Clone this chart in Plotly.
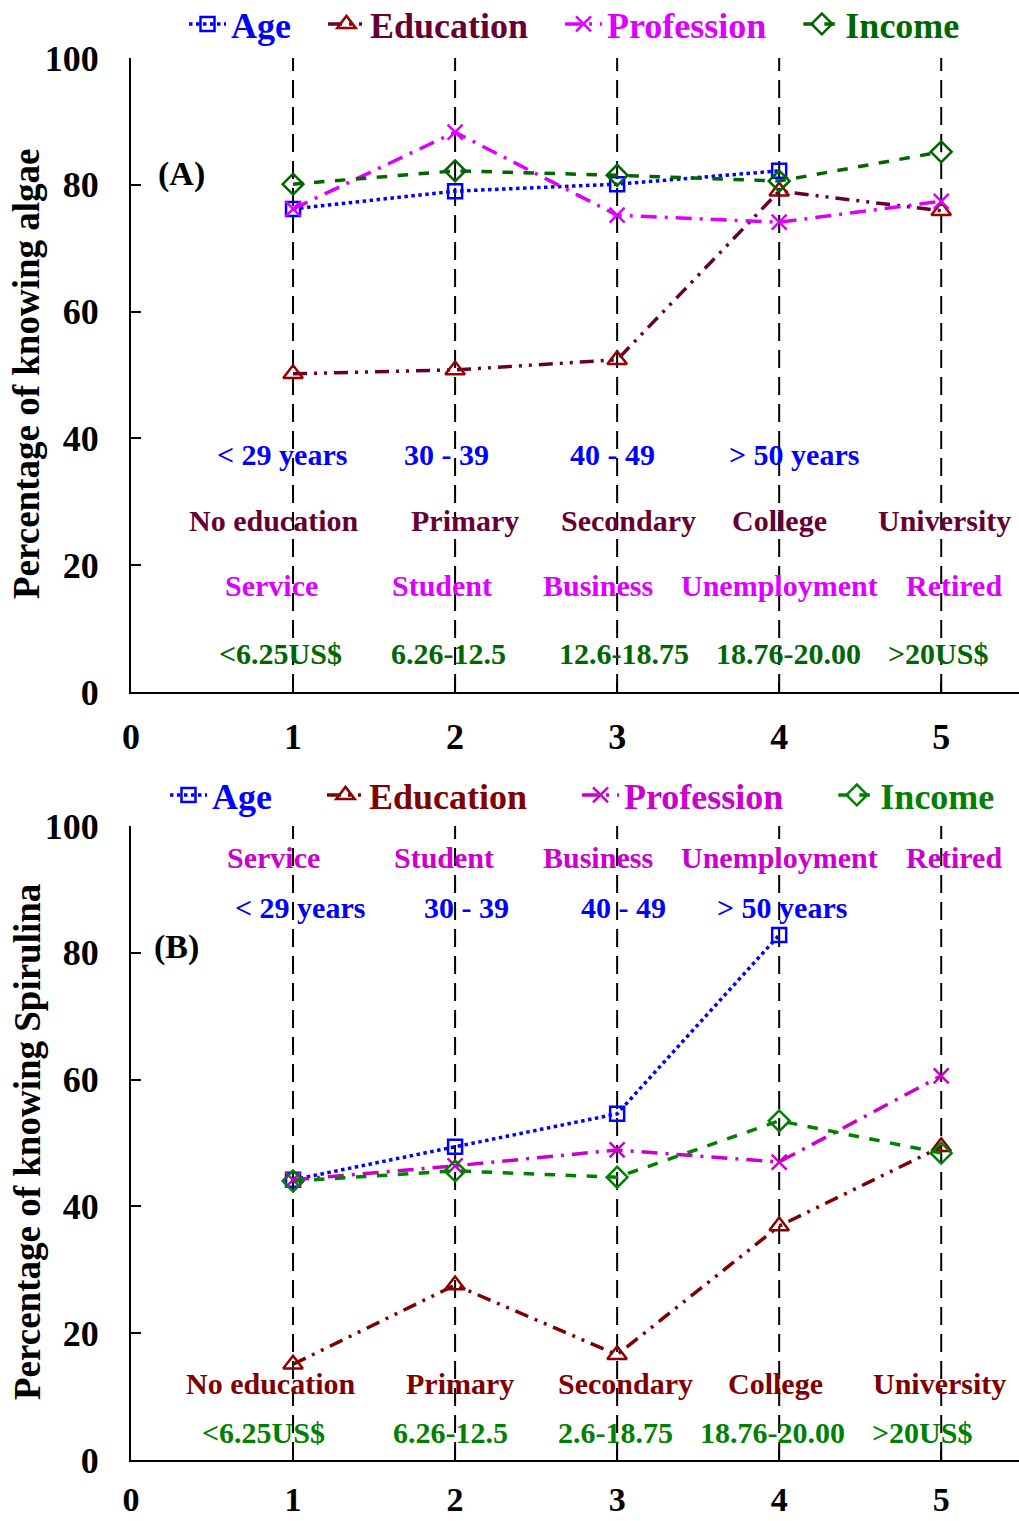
import plotly.graph_objects as go

# ---------------- data ----------------
x_vals = [1, 2, 3, 4, 5]

# Panel A: Percentage of knowing algae
a_age = [76.2, 79.0, 80.1, 82.2, None]
a_edu = [50.2, 50.8, 52.4, 79.0, 75.9]
a_prof = [76.2, 88.3, 75.2, 74.1, 77.4]
a_inc = [80.1, 82.2, 81.5, 80.6, 85.2]

# Panel B: Percentage of knowing Spirulina
b_age = [44.2, 49.4, 54.6, 82.8, None]
b_edu = [15.1, 27.6, 16.6, 36.9, 49.4]
b_prof = [44.2, 46.4, 48.9, 47.0, 60.6]
b_inc = [44.0, 45.6, 44.6, 53.5, 48.4]

series_names = ["Age", "Education", "Profession", "Income"]

# category labels (panel A)
a_age_labels = ["< 29 years", "30 - 39", "40 - 49", "> 50 years"]
a_age_lx = [0.93, 1.95, 2.97, 4.09]
a_edu_labels = ["No education", "Primary", "Secondary", "College", "University"]
a_edu_lx = [0.88, 2.06, 3.07, 4.0, 5.02]
a_prof_labels = ["Service", "Student", "Business", "Unemployment", "Retired"]
a_prof_lx = [0.87, 1.92, 2.88, 4.0, 5.08]
a_inc_labels = ["<6.25US$", "6.26-12.5", "12.6-18.75", "18.76-20.00", ">20US$"]
a_inc_lx = [0.92, 1.96, 3.04, 4.06, 4.98]
a_label_y = {"age": 37.4, "edu": 27.0, "prof": 16.8, "inc": 6.0}

# category labels (panel B)
b_prof_labels = ["Service", "Student", "Business", "Unemployment", "Retired"]
b_prof_lx = [0.88, 1.93, 2.88, 4.0, 5.08]
b_age_labels = ["< 29 years", "30 - 39", "40 - 49", "> 50 years"]
b_age_lx = [1.04, 2.07, 3.04, 4.02]
b_edu_labels = ["No education", "Primary", "Secondary", "College", "University"]
b_edu_lx = [0.86, 2.03, 3.05, 3.98, 4.99]
b_inc_labels = ["<6.25US$", "6.26-12.5", "2.6-18.75", "18.76-20.00", ">20US$"]
b_inc_lx = [0.82, 1.97, 2.99, 3.96, 4.88]
b_label_y = {"prof": 95.1, "age": 87.2, "edu": 12.1, "inc": 4.3}

y_ticks = [0, 20, 40, 60, 80, 100]
x_ticks = [0, 1, 2, 3, 4, 5]

# ---------------- styles ----------------
FONT = "Liberation Serif"
colA = {"age": "#0000FF", "edu_line": "#660033", "edu_mk": "#990000",
        "prof": "#DD00FF", "inc": "#006600", "edu_txt": "#660033"}
colB = {"age": "#0000FF", "edu_line": "#800000", "edu_mk": "#8B0000",
        "prof": "#CC00CC", "inc": "#008000", "edu_txt": "#800000"}
DASH_EDU = "14px,7px,3px,7px,3px,7px"
DASH_PROF = "16px,8px,3px,8px"

fig = go.Figure()


def add_panel(xa, ya, legend, col, age, edu, prof, inc, pad):
    specs = [
        ("Age", age, col["age"], col["age"], "dot", "square-open", col["age"], 14),
        ("Education", edu, col["edu_line"], col["edu_mk"], DASH_EDU, "triangle-up-open", col["edu_txt"], 17),
        ("Profession", prof, col["prof"], col["prof"], DASH_PROF, "x-thin-open", col["prof"], 15),
        ("Income", inc, col["inc"], col["inc"], "dash", "diamond-open", col["inc"], 16),
    ]
    for i, (name, ys, lc, mc, dash, sym, tc, ms) in enumerate(specs):
        trail = "&nbsp;" * pad if i < len(specs) - 1 else ""
        fig.add_trace(go.Scatter(
            x=x_vals, y=ys, mode="lines+markers",
            name=f"<span style='color:{tc}'>{name}</span>{trail}",
            line=dict(color=lc, width=3.5, dash=dash),
            marker=dict(symbol=sym, size=ms, color=mc,
                        line=dict(color=mc, width=2.5)),
            xaxis=xa, yaxis=ya, legend=legend, connectgaps=False,
        ))


add_panel("x", "y", "legend", colA, a_age, a_edu, a_prof, a_inc, 3)
add_panel("x2", "y2", "legend2", colB, b_age, b_edu, b_prof, b_inc, 5)

# vertical dashed guide lines
for xr, yr in (("x", "y"), ("x2", "y2")):
    for xv in x_vals:
        fig.add_shape(type="line", xref=xr, yref=yr, x0=xv, x1=xv, y0=0, y1=100,
                      line=dict(color="black", width=2, dash="18px,9px"), layer="below")

annos = []


def add_labels(labels, lxs, y, color, xr, yr):
    for t, lx in zip(labels, lxs):
        annos.append(dict(x=lx, y=y, xref=xr, yref=yr, text=t, showarrow=False,
                          font=dict(family=FONT, size=30, color=color, weight="bold"),
                          xanchor="center", yanchor="middle"))


add_labels(a_age_labels, a_age_lx, a_label_y["age"], colA["age"], "x", "y")
add_labels(a_edu_labels, a_edu_lx, a_label_y["edu"], colA["edu_txt"], "x", "y")
add_labels(a_prof_labels, a_prof_lx, a_label_y["prof"], colA["prof"], "x", "y")
add_labels(a_inc_labels, a_inc_lx, a_label_y["inc"], colA["inc"], "x", "y")

add_labels(b_prof_labels, b_prof_lx, b_label_y["prof"], colB["prof"], "x2", "y2")
add_labels(b_age_labels, b_age_lx, b_label_y["age"], colB["age"], "x2", "y2")
add_labels(b_edu_labels, b_edu_lx, b_label_y["edu"], colB["edu_txt"], "x2", "y2")
add_labels(b_inc_labels, b_inc_lx, b_label_y["inc"], colB["inc"], "x2", "y2")

# panel letters
annos.append(dict(x=0.31, y=81.7, xref="x", yref="y", text="(A)", showarrow=False,
                  xanchor="center", yanchor="middle",
                  font=dict(family=FONT, size=34, color="black", weight="bold")))
annos.append(dict(x=0.28, y=80.9, xref="x2", yref="y2", text="(B)", showarrow=False,
                  xanchor="center", yanchor="middle",
                  font=dict(family=FONT, size=34, color="black", weight="bold")))

# figure geometry (pixels)
L, R, T, B = 131, 0, 58, 61
W, H = 1019, 1521
pw, ph = W - L - R, H - T - B

# y-axis titles (rotated), positioned by pixel centre
for txt, px, py in (("Percentage of knowing algae", 27, 374),
                    ("Percentage of knowing Spirulina", 27, 1142)):
    annos.append(dict(x=(px - L) / pw, y=(H - B - py) / ph, xref="paper", yref="paper",
                      text=txt, showarrow=False, textangle=-90,
                      xanchor="center", yanchor="middle",
                      font=dict(family=FONT, size=37, color="black", weight="bold")))

axis_common = dict(
    showline=True, linecolor="black", linewidth=2, mirror=False,
    showgrid=False, zeroline=False, ticks="inside", ticklen=10, tickwidth=2,
    tickcolor="black", automargin=False,
)
tick_font = dict(family=FONT, size=36, color="black", weight="bold")
tick_font_small = dict(family=FONT, size=34, color="black", weight="bold")

yA_bot = (1460 - 692) / ph
yB_top = (1460 - 826) / ph

legend_common = dict(orientation="h", xanchor="left", yanchor="middle",
                     font=dict(family=FONT, size=36, weight="bold"),
                     bgcolor="rgba(0,0,0,0)", itemsizing="trace", itemwidth=37,
                     tracegroupgap=0)

fig.update_layout(
    width=W, height=H,
    margin=dict(l=L, r=R, t=T, b=B, autoexpand=False),
    paper_bgcolor="white", plot_bgcolor="white",
    xaxis=dict(domain=[0, 1], range=[0, 5.48], tickvals=x_ticks, anchor="y",
               ticklabelstandoff=12, tickfont=tick_font, **axis_common),
    yaxis=dict(domain=[yA_bot, 1], range=[0, 100], tickvals=y_ticks, anchor="x",
               ticklabelstandoff=23, tickfont=tick_font, **axis_common),
    xaxis2=dict(domain=[0, 1], range=[0, 5.48], tickvals=x_ticks, anchor="y2",
                ticklabelstandoff=8, tickfont=tick_font_small, **axis_common),
    yaxis2=dict(domain=[0, yB_top], range=[0, 100], tickvals=y_ticks, anchor="x2",
                ticklabelstandoff=23, tickfont=tick_font, **axis_common),
    legend=dict(x=(184 - L) / pw, y=(1460 - 24) / ph, **legend_common),
    legend2=dict(x=(165 - L) / pw, y=(1460 - 795) / ph, **legend_common),
    annotations=annos,
    showlegend=True,
)

fig.write_html("out.html")
